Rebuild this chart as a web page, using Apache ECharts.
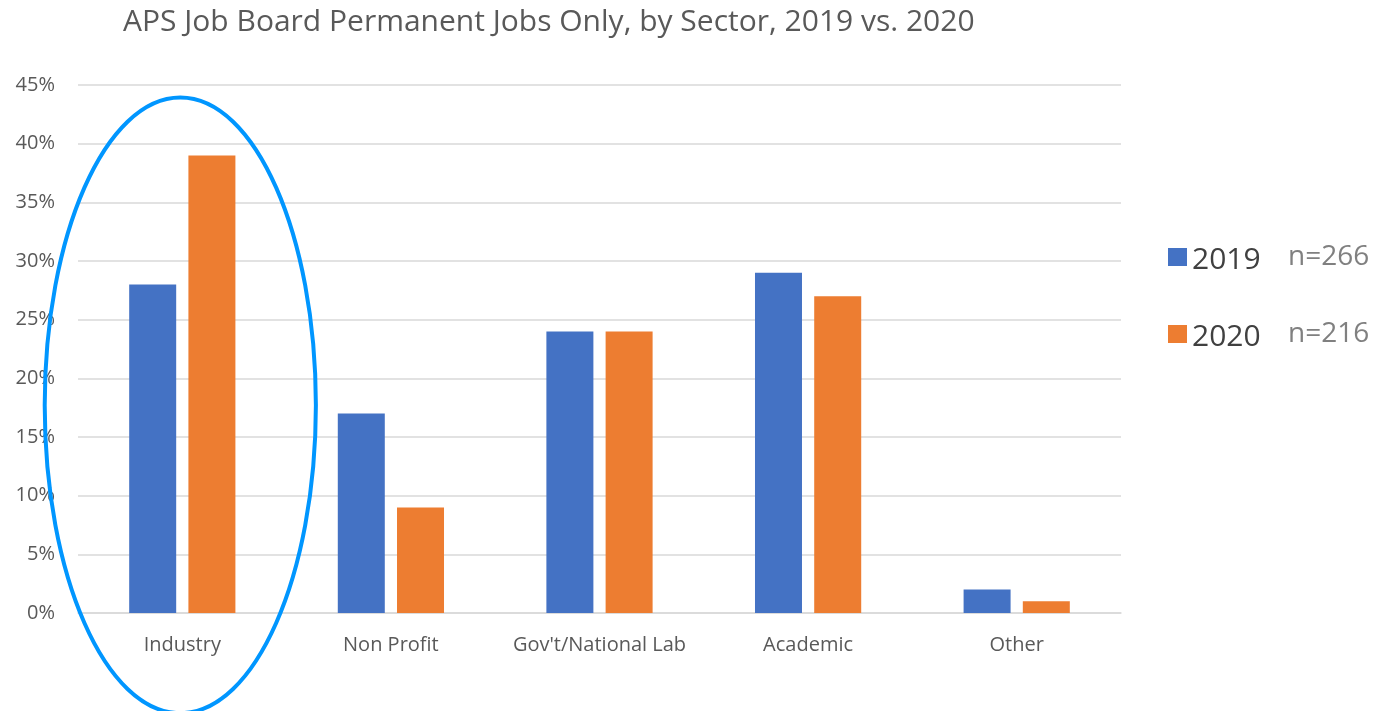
<!DOCTYPE html>
<html>
<head>
<meta charset="utf-8">
<script src="https://cdn.jsdelivr.net/npm/echarts@6/dist/echarts.min.js"></script>
<style>
  html, body { margin: 0; padding: 0; background: #fff; }
  #main { width: 1378px; height: 711px; }
</style>
</head>
<body>
<div id="main"></div>
<script>
// ---- data ----
var sectors = ['Industry', 'Non Profit', "Gov't/National Lab", 'Academic', 'Other'];
var jobs2019 = [28, 17, 24, 29, 2];
var jobs2020 = [39, 9, 24, 27, 1];
var seriesNames = ['2019', '2020'];
var sampleSizes = ['n=266', 'n=216'];

var chart = echarts.init(document.getElementById('main'));
var font = '"Open Sans", "Noto Sans", sans-serif';

var option = {
    animation: false,
    textStyle: { fontFamily: font },
    title: {
        text: 'APS Job Board Permanent Jobs Only, by Sector, 2019 vs. 2020',
        left: 118, top: 2,
        textStyle: { fontFamily: font, fontSize: 30, fontWeight: 'normal', color: '#595959' }
    },
    legend: {
        orient: 'vertical',
        left: 1163, top: 238,
        itemWidth: 19, itemHeight: 18,
        itemGap: 45,
        icon: 'rect',
        data: seriesNames,
        formatter: function (name) {
            return '{a|' + name + '}{b|' + sampleSizes[seriesNames.indexOf(name)] + '}';
        },
        textStyle: {
            rich: {
                a: { fontFamily: font, fontSize: 30, color: '#404040', width: 96, padding: [6, 0, 0, 0] },
                b: { fontFamily: font, fontSize: 28, color: '#808080' }
            }
        }
    },
    grid: { left: 78, right: 257, top: 85, bottom: 98 },
    xAxis: {
        type: 'category',
        data: sectors,
        axisLine: { lineStyle: { color: '#d9d9d9', width: 1.5 } },
        axisTick: { show: false },
        axisLabel: { fontFamily: font, fontSize: 20, color: '#595959', margin: 22, interval: 0 }
    },
    yAxis: {
        type: 'value',
        min: 0, max: 45, interval: 5,
        axisLine: { show: false },
        axisTick: { show: false },
        splitLine: { lineStyle: { color: '#d9d9d9', width: 1.5 } },
        axisLabel: { fontFamily: font, fontSize: 20, color: '#595959', margin: 23, formatter: '{value}%' }
    },
    series: [
        { name: '2019', type: 'bar', data: jobs2019, barWidth: 47, barGap: '26%', itemStyle: { color: '#4472C4' } },
        { name: '2020', type: 'bar', data: jobs2020, barWidth: 47, itemStyle: { color: '#ED7D31' } }
    ]
};
chart.setOption(option);

// ellipse highlight around the Industry group, positioned from the axes
var c = chart.convertToPixel({ xAxisIndex: 0, yAxisIndex: 0 }, ['Industry', 17.7]);
var top45 = chart.convertToPixel({ yAxisIndex: 0 }, 45);
var zero = chart.convertToPixel({ yAxisIndex: 0 }, 0);
var catW = chart.convertToPixel({ xAxisIndex: 0 }, 'Non Profit') - c[0];
chart.setOption({
    graphic: [{
        type: 'ellipse',
        shape: { cx: c[0] - 2, cy: c[1], rx: catW * 0.65, ry: (zero - top45) * 0.583 },
        style: { fill: null, stroke: '#0096FF', lineWidth: 4 },
        z: 100
    }]
});
</script>
</body>
</html>
